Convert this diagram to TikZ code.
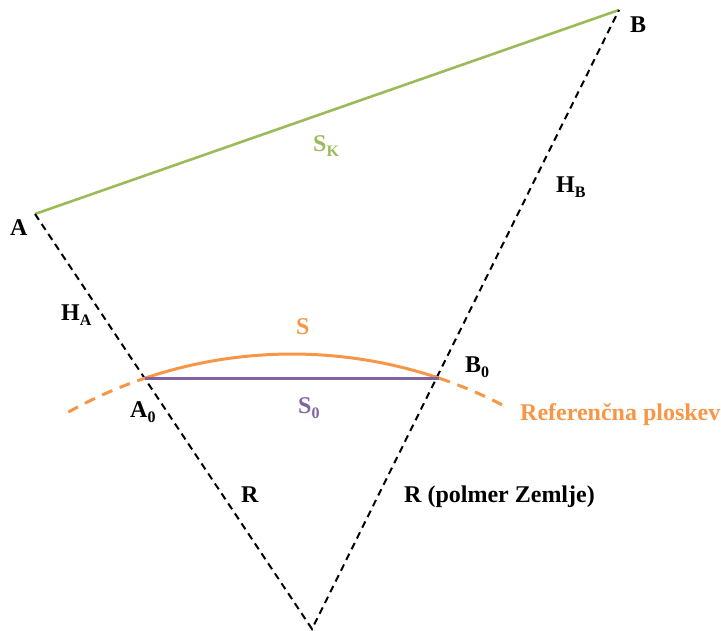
\documentclass[tikz,border=0pt]{standalone}
\usepackage{fontspec}
\setmainfont{Liberation Serif}
\usetikzlibrary{calc}
\definecolor{sgreen}{HTML}{9BBB59}
\definecolor{sorange}{HTML}{F79646}
\definecolor{spurple}{HTML}{8064A2}
\newcommand{\lowsub}[1]{\raisebox{-0.22em}{\fontsize{16}{16}\selectfont #1}}
\begin{document}
\begin{tikzpicture}[x=1pt,y=-1pt,
  lbl/.style={inner sep=0pt,anchor=base west,font=\fontsize{24}{28}\selectfont\bfseries},
  radial/.style={black,line width=2pt,dash pattern=on 7pt off 5pt},
  chord/.style={sgreen,line width=2.6pt},
  surf/.style={sorange,line width=3pt},
  surfdash/.style={sorange,line width=3pt,dash pattern=on 11pt off 8pt},
  flat/.style={spurple,line width=3pt}]
\useasboundingbox (0,0) rectangle (721,630);
\coordinate (A) at (35,214);
\coordinate (B) at (619,10);
\coordinate (O) at (312,629);
\coordinate (A0) at (145,378);
\coordinate (B0) at (439,378);
\coordinate (C) at (292,814);
\coordinate (L) at ($(C)+(-119.1:460)$);
\coordinate (R0) at ($(C)+(-109.65:460)$);
% lines
\draw[chord] (A) -- (B);
\draw[radial] (A) -- (O) -- (B);
\draw[surfdash] (L) arc[start angle=-119.1,end angle=-109.65,radius=460];
\draw[surf] (R0) arc[start angle=-109.65,end angle=-71.3,radius=460] coordinate (R1);
\draw[surfdash] (R1) arc[start angle=-71.3,end angle=-61.9,radius=460];
\draw[flat] (A0) -- (B0);
% labels
\node[lbl] (tA) at (10,235) {A};
\node[lbl] (tB) at (630,32) {B};
\node[lbl,text=sgreen] (tSK) at (313,151) {S\lowsub{K}};
\node[lbl] (tHB) at (556,192) {H\lowsub{B}};
\node[lbl] (tHA) at (61,320) {H\lowsub{A}};
\node[lbl,text=sorange] (tS) at (296,334) {S};
\node[lbl] (tB0) at (465,372) {B\lowsub{0}};
\node[lbl] (tA0) at (130,417) {A\lowsub{0}};
\node[lbl,text=spurple] (tS0) at (298,413) {S\lowsub{0}};
\node[lbl,text=sorange] (tRef) at (520,420) {Referenčna ploskev};
\node[lbl] (tR) at (241,502) {R};
\node[lbl] (tRZ) at (404,502) {R (polmer Zemlje)};
\end{tikzpicture}
\end{document}
